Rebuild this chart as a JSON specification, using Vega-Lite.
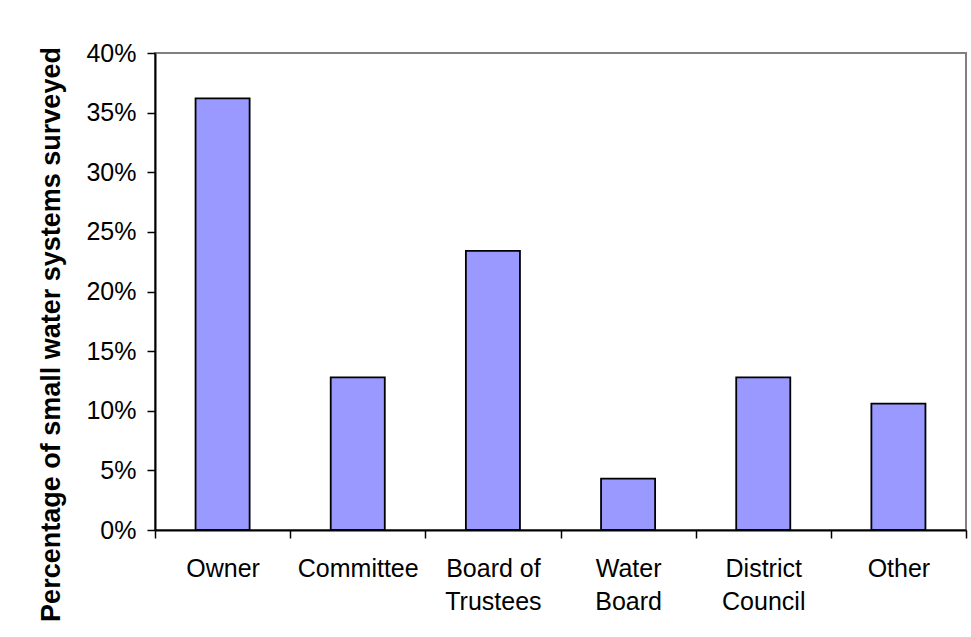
{
  "$schema": "https://vega.github.io/schema/vega-lite/v6.json",
  "autosize": {"type": "none"},
  "padding": {"left": 155, "top": 53, "right": 5, "bottom": 107},
  "width": 811,
  "height": 477,
  "background": "white",
  "data": {
    "values": [
      {"type": "Owner", "share": 0.362},
      {"type": "Committee", "share": 0.128},
      {"type": "Board of Trustees", "share": 0.234},
      {"type": "Water Board", "share": 0.043},
      {"type": "District Council", "share": 0.128},
      {"type": "Other", "share": 0.106}
    ]
  },
  "mark": {"type": "bar", "fill": "#9999FF", "stroke": "#000000", "strokeWidth": 1.8, "width": {"band": 0.4}},
  "encoding": {
    "x": {
      "field": "type",
      "type": "nominal",
      "sort": null,
      "scale": {"paddingInner": 0, "paddingOuter": 0},
      "axis": {
        "title": null,
        "labelAngle": 0,
        "tickBand": "extent",
        "tickSize": 8,
        "tickColor": "#000000",
        "tickWidth": 1.5,
        "domainColor": "#000000",
        "domainWidth": 2,
        "labelFont": "Liberation Sans",
        "labelFontSize": 25,
        "labelColor": "#000000",
        "labelPadding": 18,
        "labelBaseline": "top",
        "labelLineHeight": 33,
        "labelExpr": "datum.label == 'Board of Trustees' ? ['Board of', 'Trustees'] : split(datum.label, ' ')"
      }
    },
    "y": {
      "field": "share",
      "type": "quantitative",
      "scale": {"domain": [0, 0.4], "nice": false},
      "axis": {
        "title": "Percentage of small water systems surveyed",
        "format": ".0%",
        "values": [0, 0.05, 0.1, 0.15, 0.2, 0.25, 0.3, 0.35, 0.4],
        "grid": false,
        "tickSize": 8,
        "tickColor": "#000000",
        "tickWidth": 1.5,
        "domainColor": "#000000",
        "domainWidth": 2,
        "labelFont": "Liberation Sans",
        "labelFontSize": 25,
        "labelColor": "#000000",
        "labelPadding": 11,
        "titleFont": "Liberation Sans",
        "titleFontSize": 27,
        "titleFontWeight": "bold",
        "titleColor": "#000000",
        "titleAngle": -90,
        "titleBaseline": "alphabetic",
        "titleAlign": "center",
        "titleX": -96,
        "titleY": 281
      }
    }
  },
  "config": {
    "view": {"stroke": "#808080", "strokeWidth": 2}
  }
}
